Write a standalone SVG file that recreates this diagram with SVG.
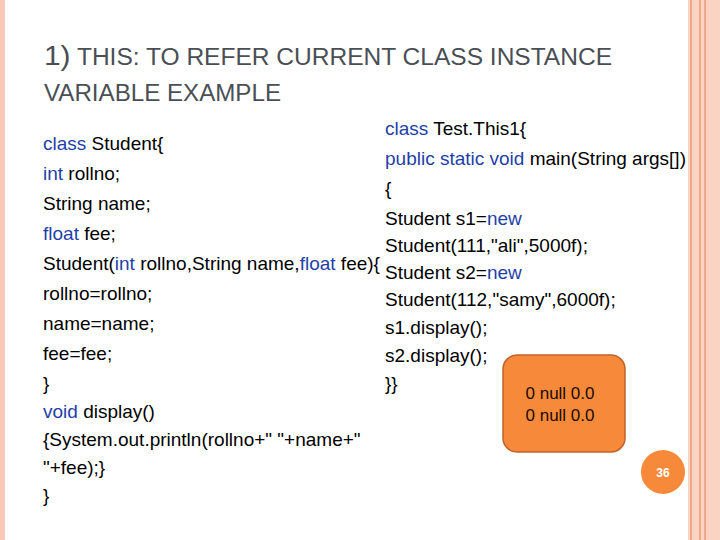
<svg xmlns="http://www.w3.org/2000/svg" width="720" height="540" viewBox="0 0 720 540">
<style>
.t{font-family:"Liberation Sans",Arial,sans-serif;font-size:19px;fill:#000}
.k{fill:#1f3fa8}
.h{font-family:"Liberation Sans",Arial,sans-serif;fill:#4a4f55}
</style>
<rect width="720" height="540" fill="#fff"/>
<g id="border">
<rect x="0" y="0" width="5" height="540" fill="#f8c9b6"/>
<rect x="688" y="0" width="32" height="540" fill="#fbd3c2"/>
<rect x="690" y="0" width="2" height="540" fill="#f0a88c"/>
<rect x="699" y="0" width="2" height="540" fill="#f0a88c"/>
<rect x="704" y="0" width="2" height="540" fill="#f0a88c"/>
</g>
<g id="title">
<text class="h" x="44" y="65" font-size="23" textLength="568" lengthAdjust="spacingAndGlyphs"><tspan font-size="28">1)</tspan> THIS: TO REFER CURRENT CLASS INSTANCE</text>
<text class="h" x="44" y="101" font-size="23" textLength="237" lengthAdjust="spacingAndGlyphs">VARIABLE EXAMPLE</text>
</g>
<g id="left">
<text class="t" x="43" y="150"><tspan class="k">class</tspan> Student{</text>
<text class="t" x="43" y="180"><tspan class="k">int</tspan> rollno;</text>
<text class="t" x="43" y="210">String name;</text>
<text class="t" x="43" y="240"><tspan class="k">float</tspan> fee;</text>
<text class="t" x="43" y="270">Student(<tspan class="k">int</tspan> rollno,String name,<tspan class="k">float</tspan> fee){</text>
<text class="t" x="43" y="300">rollno=rollno;</text>
<text class="t" x="43" y="330">name=name;</text>
<text class="t" x="43" y="360">fee=fee;</text>
<text class="t" x="43" y="390">}</text>
<text class="t" x="43" y="418"><tspan class="k">void</tspan> display()</text>
<text class="t" x="43" y="446">{System.out.println(rollno+" "+name+"</text>
<text class="t" x="43" y="474">"+fee);}</text>
<text class="t" x="43" y="502">}</text>
</g>
<g id="right">
<text class="t" x="385" y="135"><tspan class="k">class</tspan> Test.This1{</text>
<text class="t" x="385" y="165"><tspan class="k">public static void</tspan> main(String args[])</text>
<text class="t" x="385" y="195">{</text>
<text class="t" x="385" y="225">Student s1=<tspan class="k">new</tspan></text>
<text class="t" x="385" y="252">Student(111,"ali",5000f);</text>
<text class="t" x="385" y="279">Student s2=<tspan class="k">new</tspan></text>
<text class="t" x="385" y="306">Student(112,"samy",6000f);</text>
<text class="t" x="385" y="334">s1.display();</text>
<text class="t" x="385" y="362">s2.display();</text>
<text class="t" x="385" y="390">}}</text>
</g>
<g id="output">
<rect x="503" y="355" width="122" height="97" rx="14" fill="#f78a3a" stroke="#c0632a" stroke-width="1.5"/>
<text x="560" y="399" text-anchor="middle" font-family="Liberation Sans,Arial,sans-serif" font-size="17" fill="#1a0a00">0 null 0.0</text>
<text x="560" y="421" text-anchor="middle" font-family="Liberation Sans,Arial,sans-serif" font-size="17" fill="#1a0a00">0 null 0.0</text>
</g>
<g id="page">
<circle cx="663" cy="472" r="22" fill="#f78a3a"/>
<text x="663" y="477" text-anchor="middle" font-family="Liberation Sans,Arial,sans-serif" font-size="12" font-weight="bold" fill="#fff">36</text>
</g>
</svg>
